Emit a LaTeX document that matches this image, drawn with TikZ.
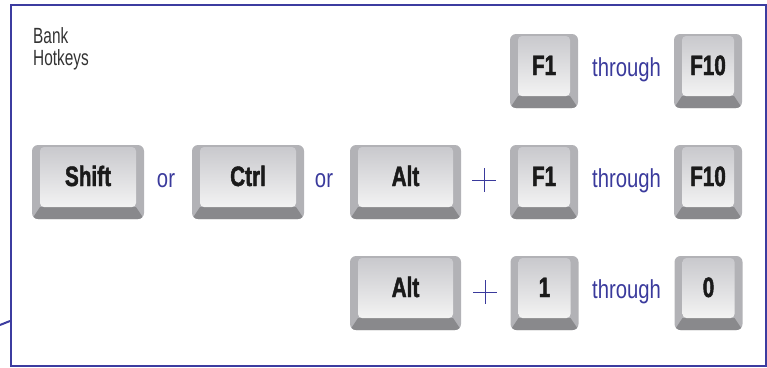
\documentclass[tikz,border=0pt]{standalone}
\usepackage{fontspec}
\setmainfont{Liberation Sans}
\newfontfamily\keyfont[FakeStretch=0.74, FakeBold=1.6]{Liberation Sans}
\newfontfamily\notefont[FakeStretch=0.78]{Liberation Sans}
\newfontfamily\titlefont[FakeStretch=0.70]{Liberation Sans}
\usetikzlibrary{calc}

\definecolor{inkblue}{HTML}{3A3A9C}
\definecolor{framblue}{HTML}{3C3CA0}
\definecolor{keyside}{HTML}{B2B2B6}
\definecolor{keylip}{HTML}{89898C}
\definecolor{keyfacetop}{HTML}{C9C9CD}
\definecolor{keyfacebot}{HTML}{F3F3F3}
\definecolor{keyink}{HTML}{1A1A1A}
\definecolor{titleink}{HTML}{333333}

\tikzset{
  keycap/.style={
    minimum width=#1, minimum height=74pt, inner sep=0pt,
    rounded corners=6pt, fill=keyside,
    text height=8pt, text depth=0pt, text=keyink,
    font=\keyfont\bfseries\fontsize{28}{28}\selectfont,
    path picture={
      \coordinate (kb) at (path picture bounding box.south west);
      \coordinate (kt) at (path picture bounding box.north east);
      \fill[keylip, sharp corners]
        (kb) -- (kb -| kt) -- ($(kb -| kt)+(-8pt,12pt)$) -- ($(kb)+(8pt,12pt)$) -- cycle;
      \shade[top color=keyfacetop, bottom color=keyfacebot, rounded corners=4pt]
        ($(kb)+(8pt,12pt)$) rectangle ($(kt)+(-8pt,-2pt)$);
    }},
  conj/.style={text=inkblue, anchor=base, inner sep=0pt,
    font=\notefont\fontsize{26}{26}\selectfont},
  plussign/.style={minimum size=24pt, inner sep=0pt,
    path picture={
      \draw[inkblue, line width=1pt]
        (path picture bounding box.west) -- (path picture bounding box.east)
        (path picture bounding box.north) -- (path picture bounding box.south);
    }},
  frame/.style={draw=framblue, line width=2pt},
}

\begin{document}
\begin{tikzpicture}[x=1pt, y=-1pt]
  \useasboundingbox (0,0) rectangle (767,367);

  % outer frame and the stub of a leader line
  \node[frame, anchor=north west, minimum width=755pt, minimum height=361pt, inner sep=0pt]
    (panel) at (10,4) {};
  \coordinate (lead) at (0,325);
  \draw[framblue, line width=2pt] (lead) -- (panel.west |- 0,321);

  % heading
  \node[anchor=north west, inner sep=0pt, align=left, text=titleink,
        font=\titlefont\fontsize{22}{22}\selectfont] (title) at (33,27) {Bank\\Hotkeys};

  % row 1: F1 through F10
  \node[keycap=68pt] (r1a) at (544,71) {F1};
  \node[conj] (r1t) at (626.5,76) {through};
  \node[keycap=68pt] (r1b) at (708,71) {F10};

  % row 2: Shift or Ctrl or Alt + F1 through F10
  \node[keycap=112pt] (shift) at (88,182) {Shift};
  \node[conj] (or1) at (166,187) {or};
  \node[keycap=112pt] (ctrl) at (248,182) {Ctrl};
  \node[conj] (or2) at (324,187) {or};
  \node[keycap=111pt] (alt2) at (405.5,182) {Alt};
  \node[plussign] (plus2) at (484,180) {};
  \node[keycap=68pt] (r2a) at (544,182) {F1};
  \node[conj] (r2t) at (626.5,187) {through};
  \node[keycap=68pt] (r2b) at (708,182) {F10};

  % row 3: Alt + 1 through 0
  \node[keycap=111pt] (alt3) at (405.5,293) {Alt};
  \node[plussign] (plus3) at (485,292) {};
  \node[keycap=68pt] (r3a) at (544.5,293) {1};
  \node[conj] (r3t) at (626.5,298) {through};
  \node[keycap=68pt] (r3b) at (708.5,293) {0};
\end{tikzpicture}
\end{document}
